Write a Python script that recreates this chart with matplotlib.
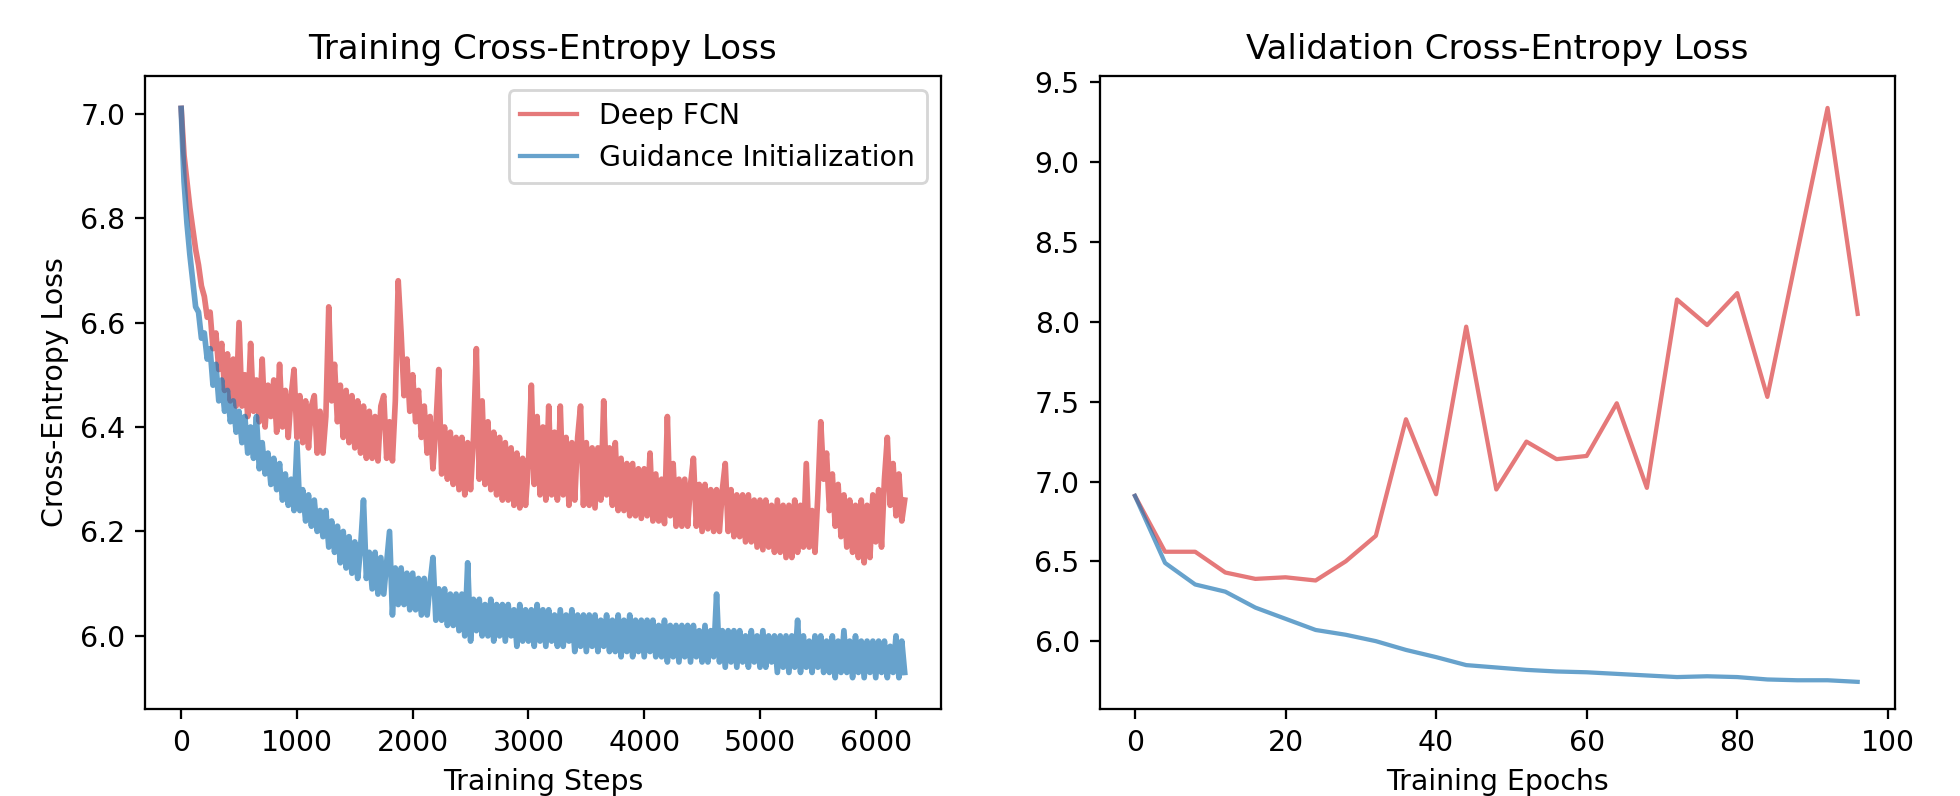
import matplotlib
matplotlib.use("Agg")
import matplotlib.pyplot as plt

# ---------------- data ----------------
train_steps = list(range(0, 6251, 25))

deep_fcn_train = [
    7.01, 6.92, 6.87, 6.82, 6.78, 6.74, 6.71, 6.67, 6.65, 6.61,
    6.62, 6.55, 6.58, 6.51, 6.56, 6.47, 6.54, 6.45, 6.53, 6.44,
    6.60, 6.44, 6.50, 6.42, 6.56, 6.43, 6.49, 6.41, 6.53, 6.40,
    6.48, 6.42, 6.49, 6.39, 6.52, 6.40, 6.47, 6.38, 6.46, 6.51,
    6.38, 6.46, 6.37, 6.45, 6.36, 6.44, 6.46, 6.35, 6.43, 6.35,
    6.42, 6.63, 6.45, 6.52, 6.41, 6.48, 6.38, 6.47, 6.37, 6.46,
    6.36, 6.45, 6.35, 6.44, 6.34, 6.43, 6.34, 6.42, 6.335, 6.44,
    6.46, 6.34, 6.41, 6.335, 6.45, 6.68, 6.58, 6.46, 6.53, 6.43,
    6.50, 6.41, 6.47, 6.38, 6.44, 6.35, 6.42, 6.32, 6.40, 6.51,
    6.31, 6.40, 6.30, 6.39, 6.29, 6.38, 6.28, 6.38, 6.27, 6.37,
    6.28, 6.38, 6.55, 6.30, 6.45, 6.29, 6.41, 6.28, 6.39, 6.27,
    6.38, 6.26, 6.37, 6.26, 6.36, 6.25, 6.35, 6.245, 6.34, 6.25,
    6.33, 6.48, 6.29, 6.42, 6.27, 6.40, 6.26, 6.44, 6.27, 6.39,
    6.26, 6.44, 6.27, 6.38, 6.25, 6.37, 6.26, 6.38, 6.44, 6.25,
    6.37, 6.25, 6.36, 6.245, 6.36, 6.26, 6.45, 6.27, 6.36, 6.25,
    6.37, 6.24, 6.34, 6.24, 6.33, 6.23, 6.33, 6.23, 6.32, 6.225,
    6.32, 6.23, 6.35, 6.22, 6.31, 6.22, 6.30, 6.215, 6.42, 6.23,
    6.33, 6.21, 6.30, 6.21, 6.30, 6.21, 6.29, 6.34, 6.21, 6.29,
    6.20, 6.29, 6.205, 6.28, 6.20, 6.28, 6.20, 6.28, 6.33, 6.20,
    6.28, 6.19, 6.27, 6.19, 6.27, 6.18, 6.27, 6.18, 6.26, 6.17,
    6.26, 6.165, 6.26, 6.17, 6.25, 6.16, 6.26, 6.16, 6.25, 6.15,
    6.25, 6.15, 6.26, 6.16, 6.25, 6.17, 6.33, 6.17, 6.24, 6.16,
    6.27, 6.41, 6.30, 6.35, 6.24, 6.31, 6.21, 6.29, 6.19, 6.27,
    6.17, 6.26, 6.16, 6.25, 6.15, 6.26, 6.14, 6.25, 6.15, 6.27,
    6.18, 6.28, 6.17, 6.30, 6.38, 6.25, 6.33, 6.23, 6.31, 6.22,
    6.26,
]

guidance_train = [
    7.01, 6.87, 6.79, 6.73, 6.68, 6.63, 6.62, 6.57, 6.58, 6.53,
    6.55, 6.48, 6.52, 6.45, 6.49, 6.43, 6.47, 6.41, 6.45, 6.39,
    6.43, 6.37, 6.42, 6.35, 6.40, 6.34, 6.42, 6.32, 6.37, 6.31,
    6.35, 6.29, 6.34, 6.28, 6.33, 6.26, 6.31, 6.25, 6.30, 6.24,
    6.37, 6.24, 6.28, 6.22, 6.27, 6.21, 6.26, 6.20, 6.24, 6.19,
    6.24, 6.17, 6.22, 6.16, 6.21, 6.14, 6.20, 6.13, 6.19, 6.12,
    6.18, 6.11, 6.17, 6.26, 6.11, 6.16, 6.09, 6.16, 6.08, 6.15,
    6.08, 6.14, 6.20, 6.04, 6.13, 6.06, 6.13, 6.06, 6.12, 6.05,
    6.12, 6.05, 6.11, 6.04, 6.11, 6.04, 6.10, 6.15, 6.03, 6.09,
    6.03, 6.09, 6.02, 6.08, 6.02, 6.08, 6.01, 6.08, 6.00, 6.14,
    5.99, 6.07, 6.01, 6.07, 6.00, 6.06, 6.00, 6.07, 5.99, 6.06,
    6.00, 6.06, 5.99, 6.06, 6.00, 6.05, 5.98, 6.06, 5.99, 6.05,
    5.99, 6.05, 5.98, 6.06, 5.99, 6.05, 5.98, 6.05, 5.99, 6.04,
    5.98, 6.05, 5.98, 6.04, 5.99, 6.05, 5.97, 6.04, 5.98, 6.04,
    5.97, 6.04, 5.98, 6.04, 5.97, 6.03, 5.98, 6.04, 5.97, 6.03,
    5.97, 6.04, 5.96, 6.03, 5.97, 6.04, 5.96, 6.03, 5.97, 6.03,
    5.96, 6.03, 5.97, 6.03, 5.96, 6.02, 5.96, 6.03, 5.95, 6.02,
    5.96, 6.02, 5.95, 6.02, 5.96, 6.02, 5.95, 6.02, 5.96, 6.01,
    5.95, 6.02, 5.95, 6.01, 5.96, 6.08, 5.95, 6.01, 5.94, 6.01,
    5.95, 6.01, 5.94, 6.01, 5.95, 6.00, 5.94, 6.01, 5.95, 6.00,
    5.94, 6.01, 5.94, 6.00, 5.95, 6.00, 5.93, 6.00, 5.94, 6.00,
    5.93, 6.00, 5.94, 6.03, 5.93, 6.00, 5.94, 5.99, 5.93, 6.00,
    5.94, 6.00, 5.93, 5.99, 5.93, 6.00, 5.92, 5.99, 5.93, 6.01,
    5.93, 5.99, 5.92, 6.00, 5.93, 5.99, 5.92, 5.99, 5.93, 5.99,
    5.92, 5.99, 5.93, 5.99, 5.92, 5.98, 5.93, 6.00, 5.92, 5.99,
    5.93,
]

val_epochs = list(range(0, 97, 4))

deep_fcn_val = [
    6.91, 6.56, 6.56, 6.43, 6.39, 6.40, 6.38, 6.50, 6.66, 7.39,
    6.92, 7.97, 6.95, 7.25, 7.14, 7.16, 7.49, 6.96, 8.14, 7.98,
    8.18, 7.53, 8.44, 9.34, 8.05,
]

guidance_val = [
    6.91, 6.49, 6.355, 6.31, 6.21, 6.14, 6.07, 6.04, 6.00, 5.945,
    5.90, 5.85, 5.835, 5.82, 5.81, 5.805, 5.795, 5.785, 5.775, 5.78,
    5.775, 5.76, 5.755, 5.755, 5.745,
]

series_labels = ["Deep FCN", "Guidance Initialization"]
red = "tab:red"
blue = "tab:blue"

# ---------------- figure ----------------
dpi = 204.1667
fig = plt.figure(figsize=(1960 / dpi, 796 / dpi), dpi=dpi)
ax1 = fig.add_axes([0.074, 0.1093, 0.406, 0.7952])
ax2 = fig.add_axes([0.561, 0.1093, 0.406, 0.7952])

ax1.plot(train_steps, deep_fcn_train, color=red, alpha=0.62, lw=2.0, label=series_labels[0])
ax1.plot(train_steps, guidance_train, color=blue, alpha=0.68, lw=2.0, label=series_labels[1])
ax1.set_title("Training Cross-Entropy Loss", fontsize=12)
ax1.set_xlabel("Training Steps", fontsize=10)
ax1.set_ylabel("Cross-Entropy Loss", fontsize=10)
ax1.set_xlim(-312, 6562)
ax1.set_ylim(5.86, 7.072)
ax1.set_xticks([0, 1000, 2000, 3000, 4000, 5000, 6000])
ax1.set_yticks([6.0, 6.2, 6.4, 6.6, 6.8, 7.0])
leg = ax1.legend(loc="upper right", fontsize=10)
for ln in leg.get_lines():
    ln.set_linewidth(1.5)

ax2.plot(val_epochs, deep_fcn_val, color=red, alpha=0.62, lw=1.5, label=series_labels[0])
ax2.plot(val_epochs, guidance_val, color=blue, alpha=0.68, lw=1.5, label=series_labels[1])
ax2.set_title("Validation Cross-Entropy Loss", fontsize=12)
ax2.set_xlabel("Training Epochs", fontsize=10)
ax2.set_xlim(-4.7, 101.0)
ax2.set_ylim(5.575, 9.54)
ax2.set_xticks([0, 20, 40, 60, 80, 100])
ax2.set_yticks([6.0, 6.5, 7.0, 7.5, 8.0, 8.5, 9.0, 9.5])

fig.savefig("out.png", dpi=dpi)
